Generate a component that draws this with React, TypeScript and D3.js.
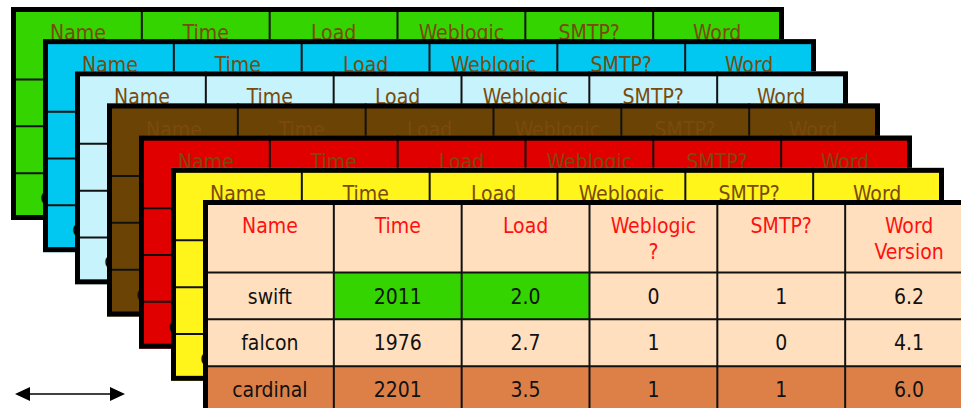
import React, { useEffect, useRef } from 'react';
import { select, scaleBand, scaleLinear } from 'd3';

// table content (same for every stacked sheet)
const headers = ['Name', 'Time', 'Load', 'Weblogic\n?', 'SMTP?', 'Word\nVersion'];
const names = ['swift', 'falcon', 'cardinal'];
const times = ['2011', '1976', '2201'];
const loads = ['2.0', '2.7', '3.5'];
const weblogic = ['0', '1', '1'];
const smtp = ['1', '0', '1'];
const wordVersion = ['6.2', '4.1', '6.0'];

// sheets, back to front
const layerColors = ['#33d400', '#00c8f0', '#c6f3fc', '#6b4304', '#e00000', '#fff51a', '#ffdfbe'];
// highlighted cells on the front sheet: [row, col]
const greenCells = [[0, 1], [0, 2]];
const orangeRows = [2];

export default function App() {
  const svgRef = useRef<SVGSVGElement>(null);

  useEffect(() => {
    const width = 961;
    const height = 408;
    const tableW = 773;
    const tableH = 213;
    const headerH = 72.5;
    const font = "'DejaVu Sans Condensed', 'DejaVu Sans', Verdana, sans-serif";
    const fontSize = 21;

    const svg = select(svgRef.current).attr('width', width).attr('height', height).html(null);

    const columns = [names, times, loads, weblogic, smtp, wordVersion];
    const xScale = scaleBand<number>()
      .domain(headers.map((h, i) => i))
      .range([3, tableW - 3]);
    const yScale = scaleBand<number>()
      .domain(names.map((n, i) => i))
      .range([headerH, tableH]);
    const offsetX = scaleLinear().domain([0, layerColors.length - 1]).range([11, 203]);
    const offsetY = scaleLinear().domain([0, layerColors.length - 1]).range([7, 200]);

    layerColors.forEach((color, li) => {
      const front = li === layerColors.length - 1;
      const g = svg.append('g').attr('transform', `translate(${offsetX(li)}, ${offsetY(li)})`);

      g.append('rect').attr('width', tableW).attr('height', tableH).attr('fill', color);

      if (front) {
        orangeRows.forEach((r) => {
          g.append('rect')
            .attr('x', 0)
            .attr('y', yScale(r))
            .attr('width', tableW)
            .attr('height', yScale.bandwidth())
            .attr('fill', '#dd8048');
        });
        greenCells.forEach(([r, c]) => {
          g.append('rect')
            .attr('x', xScale(c))
            .attr('y', yScale(r))
            .attr('width', xScale.bandwidth())
            .attr('height', yScale.bandwidth())
            .attr('fill', '#33d400');
        });
      }

      // grid
      headers.slice(1).forEach((h, i) => {
        const x = xScale(i + 1);
        g.append('line').attr('x1', x).attr('x2', x).attr('y1', 0).attr('y2', tableH)
          .attr('stroke', '#111').attr('stroke-width', 2);
      });
      names.forEach((n, i) => {
        const y = yScale(i);
        g.append('line').attr('x1', 0).attr('x2', tableW).attr('y1', y).attr('y2', y)
          .attr('stroke', '#111').attr('stroke-width', 2);
      });

      // header text
      headers.forEach((h, i) => {
        const t = g.append('text')
          .attr('x', xScale(i) + xScale.bandwidth() / 2)
          .attr('y', 33)
          .attr('text-anchor', 'middle')
          .attr('font-family', font)
          .attr('font-stretch', 'condensed')
          .attr('font-size', fontSize)
          .attr('fill', front ? '#ff1010' : '#7a4a0c');
        h.split('\n').forEach((line, k) => {
          t.append('tspan')
            .attr('x', xScale(i) + xScale.bandwidth() / 2)
            .attr('dy', k === 0 ? 0 : 26)
            .text(line);
        });
      });

      // body text
      columns.forEach((col, c) => {
        col.forEach((v, r) => {
          g.append('text')
            .attr('x', xScale(c) + xScale.bandwidth() / 2)
            .attr('y', yScale(r) + 31)
            .attr('text-anchor', 'middle')
            .attr('font-family', font)
            .attr('font-stretch', 'condensed')
            .attr('font-size', fontSize)
            .attr('fill', '#111')
            .text(v);
        });
      });

      // thick outer border
      g.append('rect')
        .attr('x', 2.5)
        .attr('y', 2.5)
        .attr('width', tableW - 5)
        .attr('height', tableH - 5)
        .attr('fill', 'none')
        .attr('stroke', '#000')
        .attr('stroke-width', 5);
    });

    // scale arrow bottom left
    const ax = scaleLinear().domain([0, 1]).range([15, 125]);
    const ay = 394;
    svg.append('line').attr('x1', ax(0) + 10).attr('x2', ax(1) - 10).attr('y1', ay).attr('y2', ay)
      .attr('stroke', '#000').attr('stroke-width', 1.6);
    svg.append('path')
      .attr('d', `M${ax(0)},${ay} l15,-7 l0,14 Z M${ax(1)},${ay} l-15,-7 l0,14 Z`)
      .attr('fill', '#000');
  }, []);

  return (
    <div style={{ position: 'absolute', left: 0, top: 0 }}>
      <svg ref={svgRef} style={{ display: 'block' }} />
    </div>
  );
}
